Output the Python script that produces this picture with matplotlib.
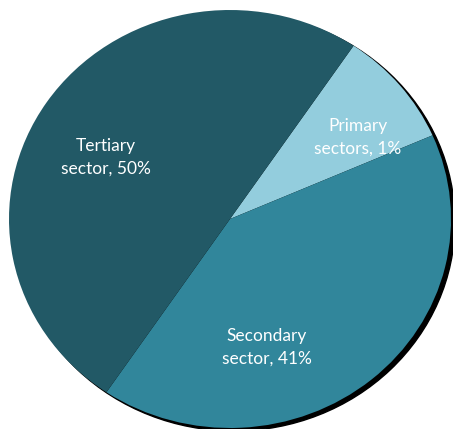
import matplotlib.pyplot as plt
from matplotlib.patches import Ellipse

# sector shares (slice sizes) and their printed labels
sectors = ['Primary\nsectors, 1%', 'Secondary\nsector, 41%', 'Tertiary\nsector, 50%']
shares = [9, 41, 50]
colors = ['#93CDDD', '#31869B', '#225966']

# label centres in pixel coords of the 453x429 picture (y from top)
label_px = [(358, 137), (267, 347), (106, 157)]

W, H = 453, 429
cx, cy = 230, 219      # pie centre in pixels
rx, ry = 221, 209      # pie is drawn a little wider than tall

fig = plt.figure(figsize=(W / 100, H / 100), dpi=100)
ax = fig.add_axes([0, 0, 1, 1])

# black drop shadow, offset down-right
ax.add_patch(Ellipse((4 / rx, -3 / ry), 2, 2, color='black', zorder=0))

wedges, _ = ax.pie(shares, colors=colors, startangle=56, counterclock=False,
                   radius=1, wedgeprops=dict(linewidth=0))
for w in wedges:
    w.set_zorder(1)

ax.set_xlim(-cx / rx, (W - cx) / rx)
ax.set_ylim((cy - H) / ry, cy / ry)
ax.set_aspect('auto')
ax.axis('off')

fam = ['Lato', 'DejaVu Sans']
for txt, (px, py) in zip(sectors, label_px):
    ax.text((px - cx) / rx, (cy - py) / ry, txt, color='white', fontsize=12.5,
            ha='center', va='center', linespacing=1.5, family=fam, zorder=3)

fig.savefig('out.png', dpi=100)
